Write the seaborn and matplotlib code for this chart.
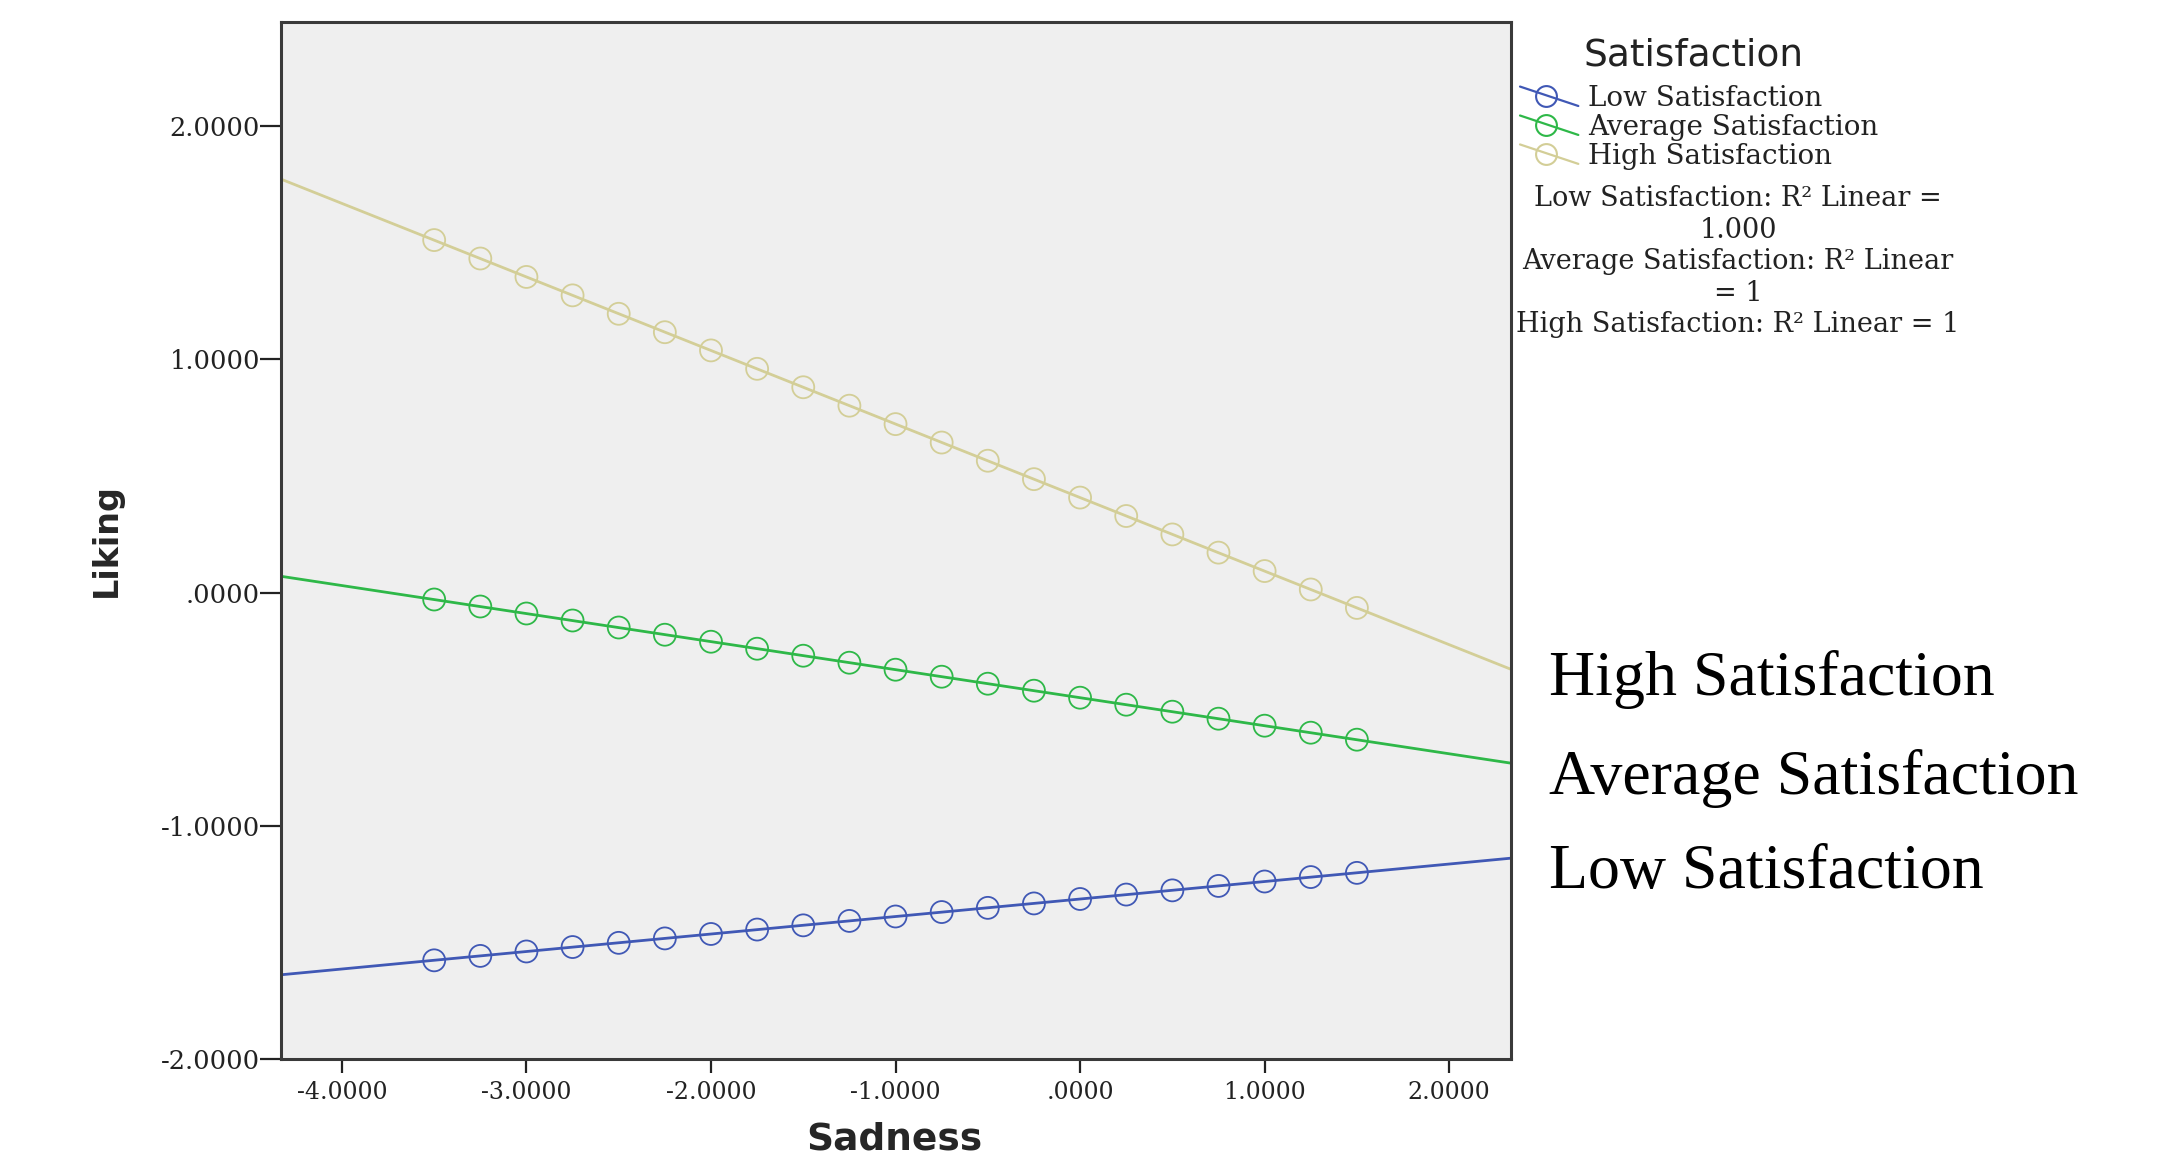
import numpy as np
import pandas as pd
import matplotlib
matplotlib.use("Agg")
import matplotlib.pyplot as plt
from matplotlib.lines import Line2D
from matplotlib.legend_handler import HandlerBase
import seaborn as sns

# ---------------- data ----------------
sadness = [-3.5, -3.25, -3.0, -2.75, -2.5, -2.25, -2.0, -1.75, -1.5, -1.25, -1.0,
           -0.75, -0.5, -0.25, 0.0, 0.25, 0.5, 0.75, 1.0, 1.25, 1.5]
liking_low = [-1.577, -1.558, -1.539, -1.520, -1.502, -1.483, -1.464, -1.445, -1.427,
              -1.408, -1.389, -1.370, -1.352, -1.333, -1.314, -1.295, -1.277, -1.258,
              -1.239, -1.220, -1.202]
liking_avg = [-0.030, -0.060, -0.090, -0.120, -0.150, -0.181, -0.211, -0.241, -0.271,
              -0.301, -0.331, -0.361, -0.391, -0.421, -0.451, -0.481, -0.511, -0.541,
              -0.571, -0.601, -0.631]
liking_high = [1.511, 1.432, 1.353, 1.274, 1.195, 1.116, 1.038, 0.959, 0.880, 0.801,
               0.722, 0.643, 0.565, 0.486, 0.407, 0.328, 0.249, 0.171, 0.092, 0.013,
               -0.066]
groups = ["Low Satisfaction", "Average Satisfaction", "High Satisfaction"]
legend_title = "Satisfaction"
r2_text = ["Low Satisfaction: R² Linear =\n1.000",
           "Average Satisfaction: R² Linear\n= 1",
           "High Satisfaction: R² Linear = 1"]
x_ticks = [-4, -3, -2, -1, 0, 1, 2]
x_tick_labels = ["-4.0000", "-3.0000", "-2.0000", "-1.0000", ".0000", "1.0000", "2.0000"]
y_ticks = [-2, -1, 0, 1, 2]
y_tick_labels = ["-2.0000", "-1.0000", ".0000", "1.0000", "2.0000"]
side_labels = ["High Satisfaction", "Average Satisfaction", "Low Satisfaction"]

df = pd.DataFrame({
    "Sadness": sadness * 3,
    "Liking": liking_low + liking_avg + liking_high,
    "Satisfaction": [g for g in groups for _ in sadness],
})

palette = {"Low Satisfaction": "#4058B5",
           "Average Satisfaction": "#2EB848",
           "High Satisfaction": "#D3CE97"}

sns.set_theme(style="white")
plt.rcParams["font.family"] = ["DejaVu Sans"]

W, H = 2158, 1155
fig = plt.figure(figsize=(W / 100, H / 100), dpi=100)
L, R, T, B = 281, 1511, 22, 1059
ax = fig.add_axes([L / W, 1 - B / H, (R - L) / W, (B - T) / H])
ax.set_facecolor("#EFEFEF")
ax.set_xlim(-4.33, 2.335)
ax.set_ylim(-2.0, 2.446)

for g in groups:
    sub = df[df["Satisfaction"] == g]
    sns.regplot(data=sub, x="Sadness", y="Liking", ax=ax, ci=None, truncate=False,
                color=palette[g],
                scatter_kws=dict(s=250, facecolors="none", edgecolors=palette[g],
                                 linewidths=1.3, alpha=1, zorder=3),
                line_kws=dict(lw=2.0, zorder=2))

ax.set_xlim(-4.33, 2.335)
ax.set_ylim(-2.0, 2.446)

# ticks
ax.set_xticks(x_ticks)
ax.set_xticklabels(x_tick_labels, family="DejaVu Serif", fontsize=17, color="#222222")
ax.set_yticks(y_ticks)
ax.set_yticklabels(y_tick_labels, family="DejaVu Serif", fontsize=18.5, color="#222222")
ax.tick_params(axis="x", direction="out", length=10, width=1.6, color="#222222",
               pad=6, bottom=True)
ax.tick_params(axis="y", direction="out", length=15, width=1.6, color="#222222",
               pad=0, left=True)

for s in ax.spines.values():
    s.set_visible(True)
    s.set_color("#3a3a3a")
    s.set_linewidth(2.2)

ax.set_xlabel("Sadness", fontsize=27, fontweight="bold", family="DejaVu Sans")
ax.set_ylabel("Liking", fontsize=24, fontweight="bold", family="DejaVu Sans")
ax.xaxis.set_label_coords(0.499, -0.06)
ax.yaxis.set_label_coords(-0.1285, 0.5)


# legend with slanted SPSS-like handles
class SlantHandler(HandlerBase):
    def create_artists(self, legend, orig_handle, xdescent, ydescent, width, height,
                       fontsize, trans):
        c = orig_handle.get_color()
        x0, y0 = -xdescent, -ydescent
        ln = Line2D([x0, x0 + width], [y0 + height * 1.0, y0 + height * 0.0],
                    color=c, lw=1.6, transform=trans)
        mk = Line2D([x0 + width * 0.45], [y0 + height * 0.5], marker="o", ms=15,
                    mfc="none", mec=c, mew=1.5, linestyle="none", transform=trans)
        return [ln, mk]


fig.text(1693 / W, 1 - 55 / H, legend_title, ha="center", va="center",
         family="DejaVu Sans", fontsize=27, color="#222222")

handles = [Line2D([], [], color=palette[g]) for g in groups]
leg = fig.legend(handles, groups, loc="upper left",
                 bbox_to_anchor=(1520 / W, 1 - 85 / H),
                 frameon=False,
                 handler_map={Line2D: SlantHandler()},
                 handlelength=2.1, handletextpad=0.35, labelspacing=0.07,
                 borderpad=0, borderaxespad=0,
                 prop=dict(family="DejaVu Serif", size=20))
for t in leg.get_texts():
    t.set_color("#222222")

fig.text(1738 / W, 1 - 185 / H, "\n".join(r2_text), ha="center", va="top",
         multialignment="center", family="DejaVu Serif", fontsize=19.5,
         color="#222222", linespacing=1.22)

# large side annotations
for lbl, yb in zip(side_labels, [695, 794, 888]):
    fig.text(1549 / W, 1 - yb / H, lbl, ha="left", va="baseline",
             family="Liberation Serif", fontsize=46, color="black")

fig.savefig("out.png", dpi=100)
